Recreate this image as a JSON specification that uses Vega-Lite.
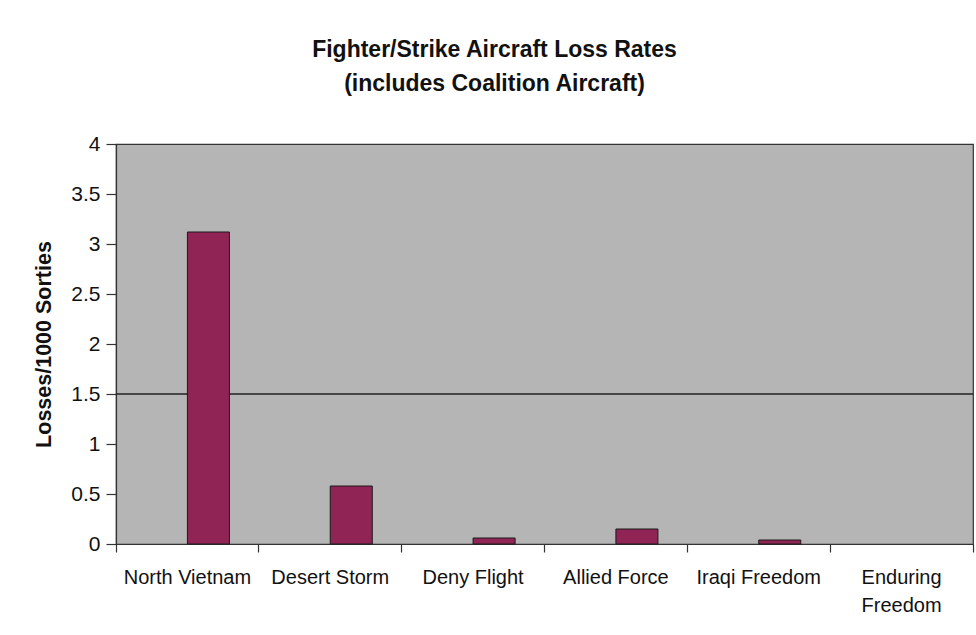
{
  "$schema": "https://vega.github.io/schema/vega-lite/v6.json",
  "width": 857,
  "height": 400,
  "autosize": "none",
  "padding": {"left": 116, "top": 144, "right": 3, "bottom": 91},
  "background": "white",
  "title": {
    "text": ["Fighter/Strike Aircraft Loss Rates", "(includes Coalition Aircraft)"],
    "font": "Liberation Sans",
    "fontSize": 23,
    "fontWeight": "bold",
    "color": "#111111",
    "anchor": "middle",
    "dx": -50,
    "lineHeight": 34,
    "offset": 37
  },
  "config": {
    "view": {"fill": "#b5b5b5", "stroke": "#333333", "strokeWidth": 1.2},
    "axis": {"labelFont": "Liberation Sans", "titleFont": "Liberation Sans", "labelColor": "#111111", "titleColor": "#111111", "domainColor": "#333333", "tickColor": "#333333", "domainWidth": 1.2, "tickWidth": 1.2}
  },
  "layer": [
    {
      "data": {"values": [{"ref": 1.5}]},
      "mark": {"type": "rule", "color": "#222222", "strokeWidth": 1.4},
      "encoding": {"y": {"field": "ref", "type": "quantitative"}}
    },
    {
      "data": {
        "values": [
          {"operation": "North Vietnam", "series": "Loss rate", "rate": 3.12},
          {"operation": "Desert Storm", "series": "Loss rate", "rate": 0.58},
          {"operation": "Deny Flight", "series": "Loss rate", "rate": 0.06},
          {"operation": "Allied Force", "series": "Loss rate", "rate": 0.15},
          {"operation": "Iraqi Freedom", "series": "Loss rate", "rate": 0.04},
          {"operation": "Enduring Freedom", "series": "Loss rate", "rate": 0}
        ]
      },
      "mark": {"type": "bar", "color": "#8f2455", "stroke": "#1a1a1a", "strokeWidth": 1},
      "encoding": {
        "x": {
          "field": "operation",
          "type": "nominal",
          "sort": null,
          "scale": {"paddingInner": 0, "paddingOuter": 0},
          "axis": {
            "title": null,
            "labelAngle": 0,
            "labelFontSize": 20,
            "labelPadding": 15,
            "tickSize": 8,
            "bandPosition": 1,
            "tickExtra": true,
            "labelOverlap": false,
            "labelLineHeight": 28,
            "labelBaseline": "top",
            "labelExpr": "datum.label == 'Enduring Freedom' ? ['Enduring', 'Freedom'] : datum.label"
          }
        },
        "xOffset": {
          "field": "series",
          "type": "nominal",
          "scale": {"domain": ["none", "Loss rate"], "paddingInner": 0, "paddingOuter": 0.7}
        },
        "y": {
          "field": "rate",
          "type": "quantitative",
          "scale": {"domain": [0, 4], "nice": false},
          "axis": {
            "title": "Losses/1000 Sorties",
            "titleFontSize": 21.5,
            "titleFontWeight": "bold",
            "titlePadding": 15,
            "values": [0, 0.5, 1, 1.5, 2, 2.5, 3, 3.5, 4],
            "format": "~g",
            "labelFontSize": 21,
            "labelPadding": 6,
            "tickSize": 10,
            "grid": false
          }
        },
        "strokeOpacity": {"condition": {"test": "datum.rate == 0", "value": 0}, "value": 1}
      }
    }
  ]
}
